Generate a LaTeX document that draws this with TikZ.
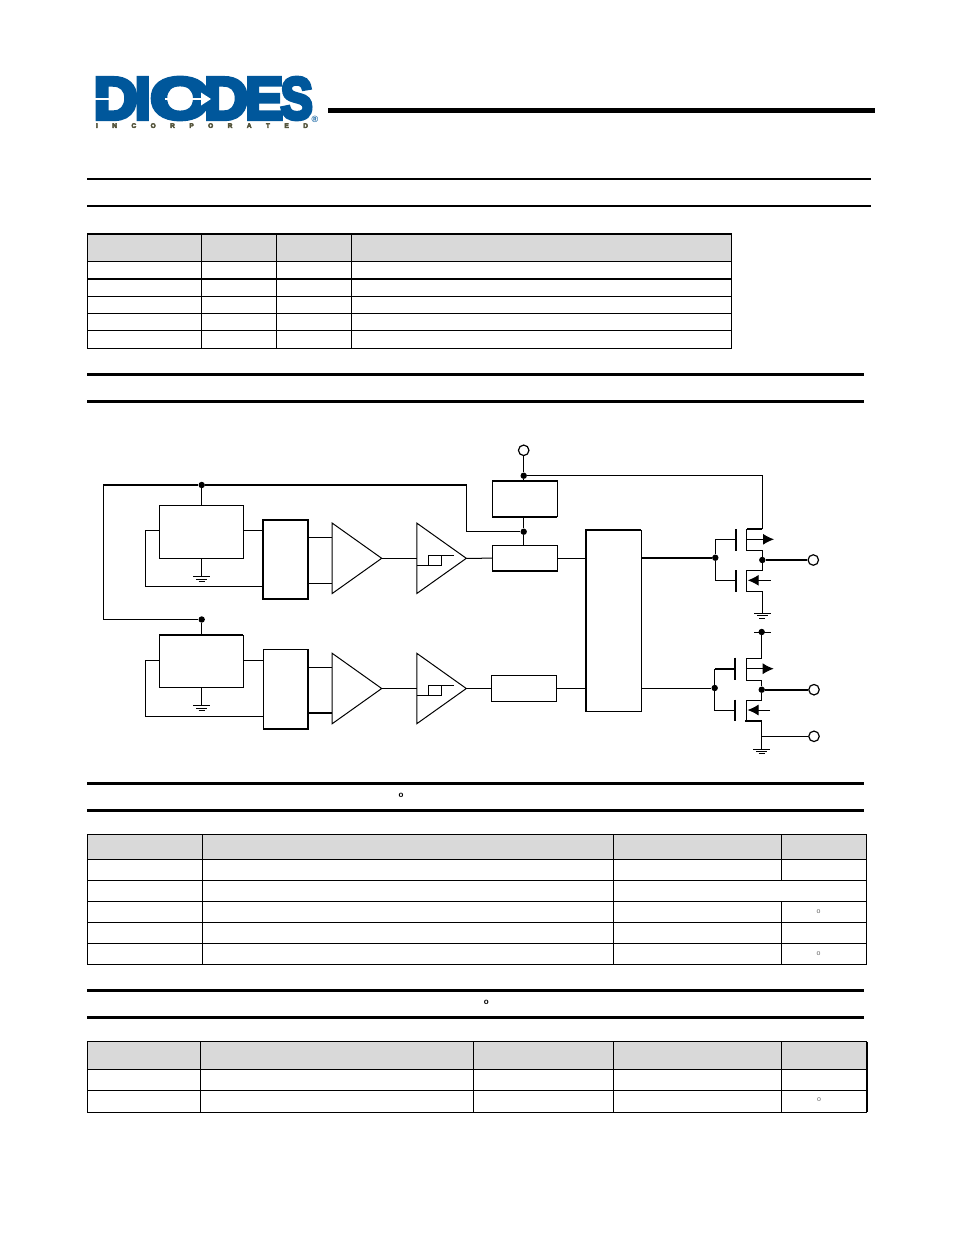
\documentclass[tikz,border=0pt]{standalone}
\usepackage{fontspec}
\usetikzlibrary{arrows.meta,shapes.geometric}
\setmainfont{Liberation Sans}
\newfontfamily\logofont[FakeBold=7]{Liberation Sans Bold}
\definecolor{logoblue}{HTML}{00579B}
\definecolor{logotext}{HTML}{55553C}
\definecolor{headgray}{HTML}{D9D9D9}
\tikzset{
  wire/.style={line width=1pt},
  bus/.style={line width=2pt},
  blk/.style={shape=rectangle,draw=black,wire,inner sep=0pt,outer sep=0pt},
  amp/.style={shape=isosceles triangle,isosceles triangle stretches,draw=black,wire,inner sep=0pt,outer sep=0pt,minimum width=70.4pt,minimum height=49.5pt,anchor=apex},
  dot/.style={shape=circle,fill=black,inner sep=0pt,minimum size=6.4pt},
  port/.style={shape=circle,draw=black,fill=white,line width=1.2pt,inner sep=0pt,minimum size=10.5pt},
  deg/.style={font=\bfseries\fontsize{8}{8}\selectfont,inner sep=0pt},
  degs/.style={font=\fontsize{7}{7}\selectfont,text=black!60,inner sep=0pt},
  logoletter/.style={inner sep=0pt,text=logoblue,font=\logofont,anchor=west}
}
\newcommand{\gndsym}[1]{
  \draw[wire] (#1) ++(-8.3,0) -- ++(16.6,0);
  \draw[wire] (#1) ++(-5.5,2.4) -- ++(11,0);
  \draw[wire] (#1) ++(-3,4.8) -- ++(6,0);
}
\newcommand{\hystsym}[1]{
  \draw[wire] (416.7,#1) -- (441.7,#1) -- (441.7,#1-10) -- (428.3,#1-10);
  \draw[line width=1.5pt] (428.3,#1) -- (428.3,#1-10) -- (454,#1-10);
}
\begin{document}
\begin{tikzpicture}[x=1pt,y=-1pt]
  \useasboundingbox (0,0) rectangle (954,1235);
  \fill[white] (0,0) rectangle (954,1235);

  % logo
  \node[logoletter] (logoD) at (93.5,98.5) {\resizebox{44pt}{41pt}{D}};
  \node[logoletter] (logoI) at (134.5,98.5) {\resizebox{16pt}{41pt}{I}};
  \node[logoletter] (logoO) at (150,98.5) {\resizebox{60pt}{41pt}{O}};
  \node[logoletter] (logoDb) at (204,98.5) {\resizebox{44pt}{41pt}{D}};
  \node[logoletter] (logoE) at (245,98.5) {\resizebox{38pt}{41pt}{E}};
  \node[logoletter] (logoS) at (280.5,98.5) {\resizebox{32pt}{41pt}{S}};
  \draw[white,line width=1.6pt] (94,99) -- (110,99);
  \draw[white,line width=1.6pt] (165,99) -- (205,99);
  \fill[white] (201,92.5) -- (211,99) -- (201,105.5) -- cycle;
  \node[inner sep=0pt,text=logotext] (inc) at (202,125.6) {\makebox[212pt][s]{\logofont\fontsize{6.5}{7}\selectfont I\hfil N\hfil C\hfil O\hfil R\hfil P\hfil O\hfil R\hfil A\hfil T\hfil E\hfil D}};
  \node[inner sep=0pt,text=logoblue] (reg) at (315,119) {\bfseries\fontsize{9}{9}\selectfont ®};
  \draw[line width=5pt] (328,110) -- (875,110);

  % section rules
  \draw[line width=2pt] (87,179) -- (871,179);
  \draw[line width=2pt] (87,206) -- (871,206);
  \draw[line width=3pt] (87,374) -- (864,374);
  \draw[line width=3pt] (87,401.3) -- (864,401.3);
  \draw[line width=3pt] (87,783.5) -- (864,783.5);
  \draw[line width=3pt] (87,810.5) -- (864,810.5);
  \draw[line width=3pt] (87,990.5) -- (864,990.5);
  \draw[line width=3pt] (87,1017.5) -- (864,1017.5);
  \node[deg] (degA) at (401,795) {o};
  \node[deg] (degB) at (486.3,1002) {o};

  % pin table
  \fill[headgray] (87.5,234) rectangle (731.5,261.5);
  \draw[wire] (87.5,234) rectangle (731.5,348.3);
  \draw[bus] (87,234) -- (732,234);
  \draw[wire] (87.5,261.5) -- (731.5,261.5);
  \draw[bus] (87.5,278.7) -- (731.5,278.7);
  \draw[wire] (87.5,296.3) -- (731.5,296.3);
  \draw[wire] (87.5,313.3) -- (731.5,313.3);
  \draw[wire] (87.5,330.7) -- (731.5,330.7);
  \draw[wire] (201.5,234) -- (201.5,348.3);
  \draw[wire] (276.5,234) -- (276.5,348.3);
  \draw[wire] (351.5,234) -- (351.5,348.3);

  % ratings table
  \fill[headgray] (87.5,834.3) rectangle (866.5,859.3);
  \draw[wire] (87.5,834.3) rectangle (866.5,964.3);
  \draw[wire] (87.5,859.3) -- (866.5,859.3);
  \draw[wire] (87.5,880.3) -- (866.5,880.3);
  \draw[wire] (87.5,901.3) -- (866.5,901.3);
  \draw[wire] (87.5,922.3) -- (866.5,922.3);
  \draw[wire] (87.5,943.3) -- (866.5,943.3);
  \draw[wire] (202.5,834.3) -- (202.5,964.3);
  \draw[wire] (613.5,834.3) -- (613.5,964.3);
  \draw[wire] (781.5,834.3) -- (781.5,880.3);
  \draw[wire] (781.5,901.3) -- (781.5,964.3);
  \node[degs] (degC) at (818.5,911.5) {o};
  \node[degs] (degD) at (818.5,953.5) {o};

  % thermal table
  \fill[headgray] (87.5,1041.5) rectangle (866,1069.3);
  \draw[wire] (87.5,1041.5) rectangle (866,1112.3);
  \draw[wire] (87.5,1069.3) -- (866,1069.3);
  \draw[wire] (87.5,1090.3) -- (866,1090.3);
  \draw[wire] (200.5,1041.5) -- (200.5,1112.3);
  \draw[wire] (473.5,1041.5) -- (473.5,1112.3);
  \draw[wire] (613.5,1041.5) -- (613.5,1112.3);
  \draw[wire] (781.5,1041.5) -- (781.5,1112.3);
  \draw[bus] (866.5,1041.5) -- (866.5,1112.3);
  \node[degs] (degE) at (819,1099.5) {o};

  % upper channel blocks
  \node[blk,minimum width=84pt,minimum height=53pt] (R1) at (201.3,531.8) {};
  \node[blk,minimum width=44.7pt,minimum height=78.7pt,bus] (M1) at (285.7,559.3) {};
  \node[amp] (A1) at (381.7,558.3) {};
  \node[amp] (S1) at (466.3,558.3) {};
  \node[blk,minimum width=65pt,minimum height=35.7pt] (P) at (524.8,498.8) {};
  \node[blk,minimum width=65pt,minimum height=25.7pt] (H) at (524.8,558.2) {};
  \node[blk,minimum width=55.6pt,minimum height=181.3pt] (L) at (613.5,620.7) {};

  % lower channel blocks
  \node[blk,minimum width=84pt,minimum height=52.3pt] (R2) at (201.3,661.2) {};
  \node[blk,minimum width=44.7pt,minimum height=79.7pt] (M2) at (285.7,689.2) {};
  \node[amp] (A2) at (381.7,688.5) {};
  \node[amp] (S2) at (466.3,688.5) {};
  \node[blk,minimum width=65pt,minimum height=26pt] (G) at (523.8,688.3) {};

  % heavier edges of some blocks
  \draw[bus] (P.north west) -- (P.north east);
  \draw[bus] (P.south west) -- (P.south east);
  \draw[bus] (H.south west) -- (H.south east);
  \draw[bus] (L.north east) -- (L.north west) -- (L.south west);
  \draw[bus] (R2.north west) -- (R2.north east);
  \draw[bus] (M2.north east) -- (M2.south east) -- (M2.south west);

  % supply and junctions
  \node[port] (VIN) at (523.7,450.3) {};
  \node[dot] (J0) at (523.7,475.7) {};
  \node[dot] (J1) at (523.7,531.7) {};
  \node[dot] (J2) at (201.7,485) {};
  \node[dot] (J3) at (201.7,619.5) {};
  \coordinate (C1) at (466.7,485);
  \coordinate (C2) at (103.3,485);

  \draw[wire] (VIN) -- (J0);
  \draw[wire] (J0) -- (J0 |- P.north);
  \draw[wire] (P.south -| J1) -- (J1);
  \draw[wire] (J1) -- (J1 |- H.north);
  \draw[bus] (C2) -- (J2);
  \draw[bus] (J2) -- (C1);
  \draw[wire] (C1) |- (J1);
  \draw[wire] (C2) |- (J3);
  \draw[wire] (J2) -- (J2 |- R1.north);
  \draw[wire] (J3) -- (J3 |- R2.north);

  % upper signal path
  \coordinate (FB1) at (145,530.3);
  \coordinate (FB2) at (145,586.3);
  \coordinate (GN1) at (201.7,576.7);
  \draw[wire] (R1.west |- FB1) -- (FB1) -- (FB2) -- (M1.west |- FB2);
  \draw[wire] (R1.east |- FB1) -- (M1.west |- FB1);
  \draw[wire] (J2 |- R1.south) -- (GN1);
  \gndsym{GN1}
  \draw[wire] (M1.east |- 0,537.3) -- (A1.left corner |- 0,537.3);
  \draw[wire] (M1.east |- 0,583.3) -- (A1.left corner |- 0,583.3);
  \draw[wire] (A1.apex) -- (S1.left corner |- A1.apex);
  \draw[wire] (S1.apex) -- (H.west);
  \draw[wire] (H.east) -- (L.west |- H.east);
  \hystsym{565.3}

  % lower signal path
  \coordinate (FB3) at (145,660.3);
  \coordinate (FB4) at (145,716.3);
  \coordinate (GN2) at (201.7,705.7);
  \draw[wire] (R2.west |- FB3) -- (FB3) -- (FB4) -- (M2.west |- FB4);
  \draw[wire] (R2.east |- FB3) -- (M2.west |- FB3);
  \draw[wire] (J3 |- R2.south) -- (GN2);
  \gndsym{GN2}
  \draw[wire] (M2.east |- 0,667.3) -- (A2.left corner |- 0,667.3);
  \draw[bus] (M2.east |- 0,712.7) -- (A2.left corner |- 0,712.7);
  \draw[wire] (A2.apex) -- (S2.left corner |- A2.apex);
  \draw[wire] (S2.apex) -- (G.west |- S2.apex);
  \draw[wire] (G.east) -- (L.west |- G.east);
  \hystsym{695.3}

  % upper output stage
  \node[dot] (N1) at (715.3,557.7) {};
  \node[dot] (D1) at (762.3,560) {};
  \node[port] (OUT1) at (813.3,560) {};
  \coordinate (T1) at (762.3,529);
  \coordinate (B1) at (762.3,591.3);
  \coordinate (GN3) at (762.3,613.3);
  \draw[bus] (L.east |- N1) -- (N1);
  \draw[wire] (735.7,539.3) -| (N1);
  \draw[wire] (735.7,580.3) -| (N1);
  \draw[bus] (735.7,529) -- (735.7,550.7);
  \draw[bus] (735.7,570) -- (735.7,591.7);
  \draw[wire] (J0) -| (T1);
  \draw[bus] (T1) -- (746.7,529);
  \draw[wire] (746.7,529) -- (746.7,550) -| (D1);
  \draw[wire] (D1) |- (746.7,570) -- (746.7,591.3) -- (B1) -- (GN3);
  \gndsym{GN3}
  \draw[bus] (D1) -- (OUT1);
  \draw[wire,-{Latex[length=11pt,width=11pt]}] (746.7,539.3) -- (774,539.3);
  \draw[wire,-{Latex[length=11pt,width=11pt]}] (770.7,580.3) -- (747.7,580.3);

  % lower output stage
  \node[dot] (N2) at (714.7,688) {};
  \node[dot] (D2) at (761.7,689.7) {};
  \node[dot] (T2) at (761.7,632) {};
  \node[port] (OUT2) at (814,689.7) {};
  \node[port] (OUT3) at (814,736.3) {};
  \coordinate (GN4) at (761.7,749);
  \coordinate (TP) at (761.7,736.3);
  \coordinate (N2a) at (714.7,669.3);
  \draw[wire] (L.east |- N2) -- (N2);
  \draw[bus] (735.3,669.3) -- (N2a);
  \draw[wire] (N2a) -- (N2);
  \draw[wire] (735.3,710.3) -| (N2);
  \draw[bus] (735.3,657.7) -- (735.3,680.3);
  \draw[bus] (735.3,699.7) -- (735.3,721);
  \draw[wire] (754,632) -- (770.7,632);
  \draw[wire] (T2) |- (746.3,658.3) -- (746.3,680) -| (D2);
  \draw[wire] (D2) |- (746.3,700.3) -- (746.3,720.7);
  \draw[bus] (745.3,720.7) -- (761.7,720.7);
  \draw[wire] (761.7,720.7) -- (GN4);
  \gndsym{GN4}
  \draw[bus] (D2) -- (OUT2);
  \draw[wire] (TP) -- (OUT3);
  \draw[wire,-{Latex[length=11pt,width=11pt]}] (746.3,668.7) -- (773.7,668.7);
  \draw[wire,-{Latex[length=11pt,width=11pt]}] (770,710) -- (747.5,710);
\end{tikzpicture}
\end{document}
